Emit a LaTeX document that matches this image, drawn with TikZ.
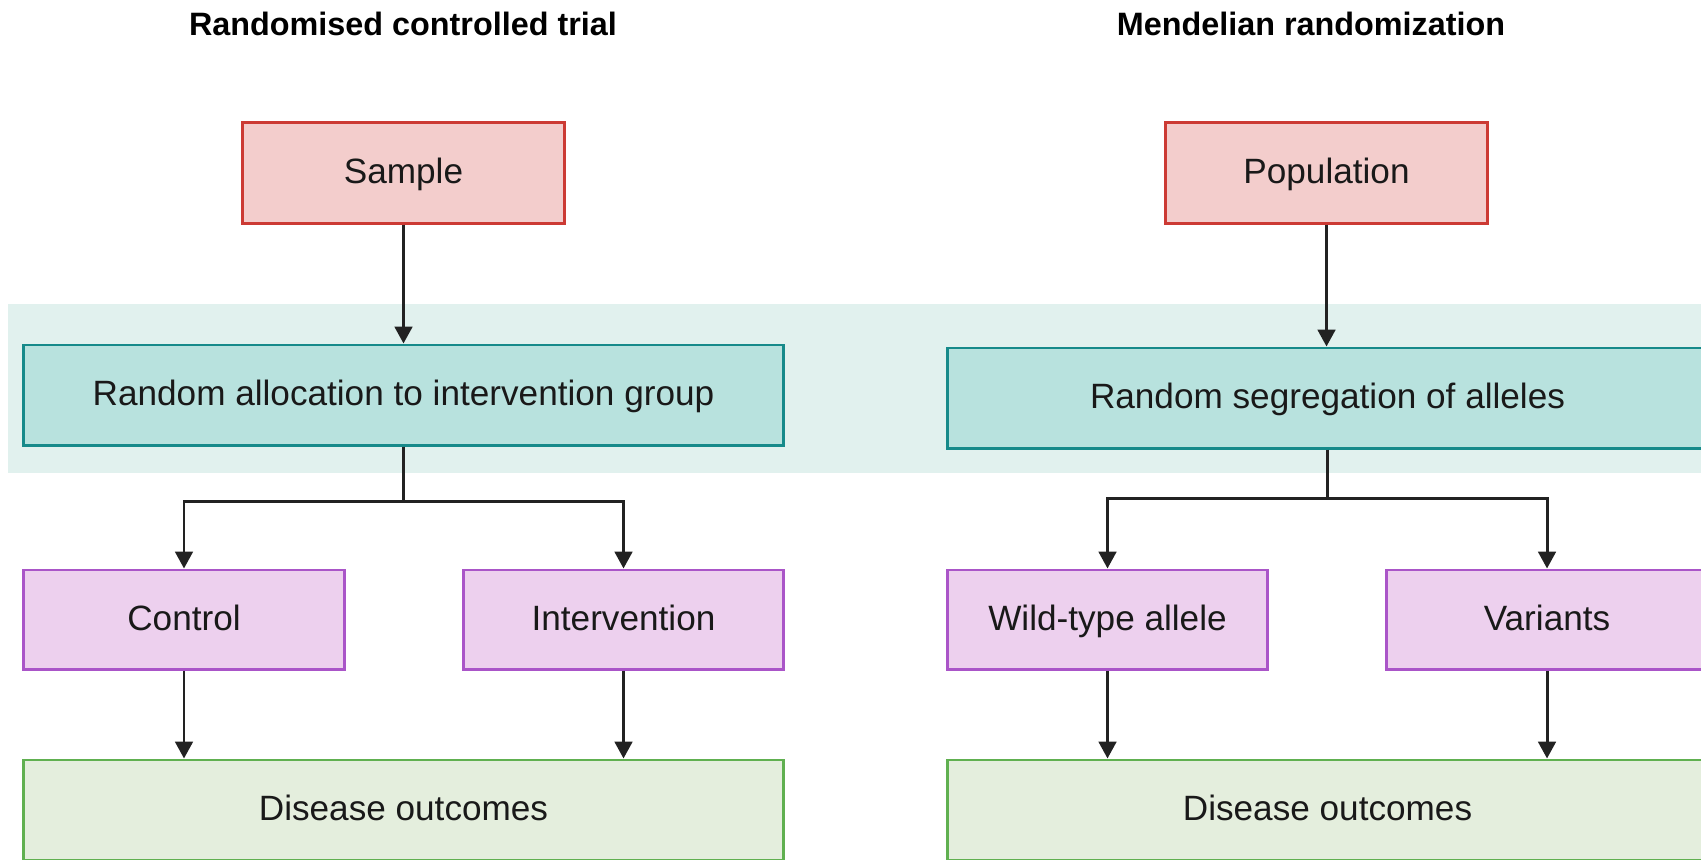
\documentclass[tikz,border=0pt]{standalone}
\usepackage{fontspec}
\setmainfont{Liberation Sans}
\usetikzlibrary{arrows.meta,positioning}
\definecolor{redline}{RGB}{204,58,52}
\definecolor{redfill}{RGB}{243,205,204}
\definecolor{tealline}{RGB}{22,138,138}
\definecolor{tealfill}{RGB}{184,226,222}
\definecolor{bandfill}{RGB}{225,241,238}
\definecolor{purpleline}{RGB}{170,85,200}
\definecolor{purplefill}{RGB}{237,208,238}
\definecolor{greenline}{RGB}{96,176,80}
\definecolor{greenfill}{RGB}{228,238,221}
\definecolor{linkgray}{RGB}{34,34,34}

\begin{document}
\begin{tikzpicture}[
        x=0.01cm, y=-0.01cm,
        box/.style={rectangle, draw, line width=0.85pt, inner sep=0pt,
          text height=7.8pt, text depth=1.8pt,
          font=\fontsize{10}{12}\selectfont, text=black!90},
        source node/.style={box, draw=redline, fill=redfill, minimum width=3.21cm, minimum height=1cm},
        random node/.style={box, draw=tealline, fill=tealfill, minimum width=7.59cm, minimum height=1cm},
        group node/.style={box, draw=purpleline, fill=purplefill, minimum width=3.2cm, minimum height=0.99cm},
        outcome node/.style={box, draw=greenline, fill=greenfill, minimum width=7.59cm, minimum height=1cm},
        title node/.style={font=\bfseries\fontsize{9.2}{11}\selectfont},
        link/.style={draw=linkgray, line width=0.85pt},
        arrow/.style={link, -{Triangle[length=4.8pt,width=5pt]}}
      ]
      \useasboundingbox (0,0) rectangle (1701,859);
      \clip (0,0) rectangle (1701,859);

      % Band behind the random step
      \fill[bandfill] (8,304) rectangle (1720,473);

      % Titles
      \node[title node] (rct title) at (403,24) {Randomised controlled trial};
      \node[title node] (mr title) at (1311,24) {Mendelian randomization};

      % Left column
      \node[source node] (sample) at (403.5,173) {Sample};
      \node[random node] (alloc) at (403.5,395) {Random allocation to intervention group};
      \node[group node] (control) at (184,619.5) {Control};
      \node[group node] (interv) at (623.5,619.5) {Intervention};
      \node[outcome node] (out rct) at (403.5,810) {Disease outcomes};
      \coordinate (split rct) at (403.5,501);

      % Right column
      \node[source node] (population) at (1326.5,173) {Population};
      \node[random node] (segreg) at (1327.5,398) {Random segregation of alleles};
      \node[group node] (wild) at (1107.5,619.5) {Wild-type allele};
      \node[group node] (variants) at (1547,619.5) {Variants};
      \node[outcome node] (out mr) at (1327.5,810) {Disease outcomes};
      \coordinate (split mr) at (1327.5,498);

      % Arrows
      \draw[arrow] (sample) -- (alloc);
      \draw[link] (alloc) -- (split rct);
      \draw[arrow] (split rct) -| (control);
      \draw[arrow] (split rct) -| (interv);
      \draw[arrow] (control) -- (control |- out rct.north);
      \draw[arrow] (interv) -- (interv |- out rct.north);

      \draw[arrow] (population) -- (population |- segreg.north);
      \draw[link] (segreg) -- (split mr);
      \draw[arrow] (split mr) -| (wild);
      \draw[arrow] (split mr) -| (variants);
      \draw[arrow] (wild) -- (wild |- out mr.north);
      \draw[arrow] (variants) -- (variants |- out mr.north);
    \end{tikzpicture}
\end{document}
